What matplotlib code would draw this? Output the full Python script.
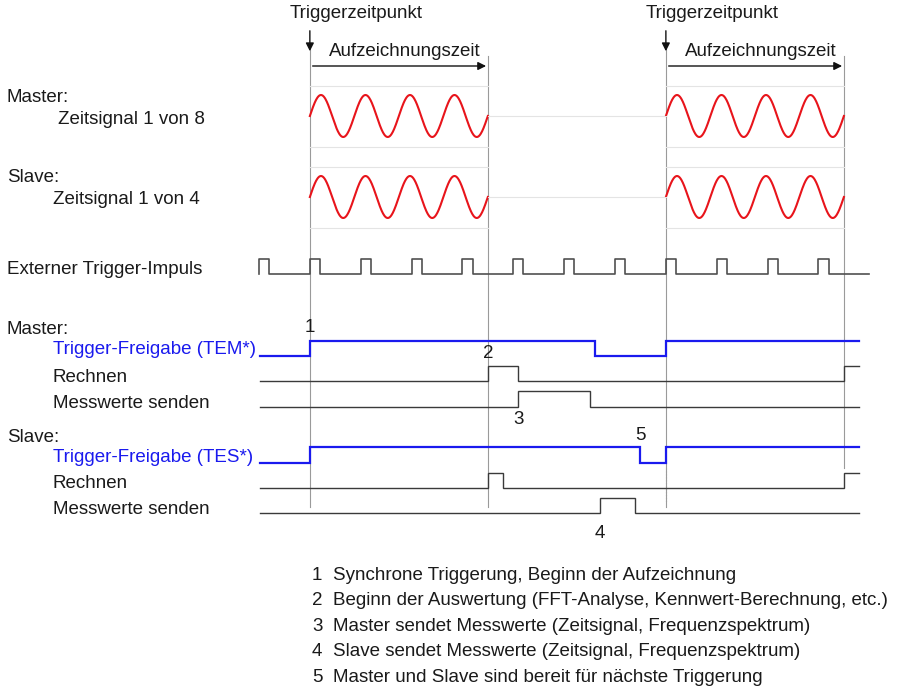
import matplotlib
matplotlib.use("Agg")
import matplotlib.pyplot as plt
import numpy as np

plt.rcParams['font.family'] = ['Liberation Sans', 'DejaVu Sans']

# time axis in units of the external trigger period
pulse_times = list(range(12))
pulse_width = 0.2
signal_end = 12.0
trigger_times = [1.0, 8.0]
record_length = 3.5
sine_cycles = 4

# step signals: (start level, transition times, end time)
master_tem = (0, [1.0, 6.6, 8.0], 11.8)
master_calc = (0, [4.5, 5.1, 11.5], 11.8)
master_send = (0, [5.1, 6.5], 11.8)
slave_tes = (0, [1.0, 7.5, 8.0], 11.8)
slave_calc = (0, [4.5, 4.8, 11.5], 11.8)
slave_send = (0, [6.7, 7.4], 11.8)

markers = ['1', '2', '3', '4', '5']
marker_times = [1.0, 4.5, 5.1, 6.7, 7.5]
legend_texts = [
    'Synchrone Triggerung, Beginn der Aufzeichnung',
    'Beginn der Auswertung (FFT-Analyse, Kennwert-Berechnung, etc.)',
    'Master sendet Messwerte (Zeitsignal, Frequenzspektrum)',
    'Slave sendet Messwerte (Zeitsignal, Frequenzspektrum)',
    'Master und Slave sind bereit für nächste Triggerung',
]

T0, DT = 259.0, 50.86


def px(t):
    return T0 + DT * np.asarray(t, dtype=float)


fig = plt.figure(figsize=(8.97, 6.88), dpi=100)
ax = fig.add_axes([0, 0, 1, 1])
ax.set_xlim(0, 897)
ax.set_ylim(688, 0)
ax.axis('off')

TXT = '#1a1a1a'
BLUE = '#1a1aee'
GRAY = '#9a9a9a'
FAINT = '#e4e4e4'
SIG = '#3a3a3a'
FS = 13.5


def step(sig, y_low, y_high, color, lw):
    level, times, end = sig
    xs, ys = [px(0.02)], [y_high if level else y_low]
    for t in times:
        xs += [px(t), px(t)]
        ys += [ys[-1], y_low if ys[-1] == y_high else y_high]
    xs.append(px(end))
    ys.append(ys[-1])
    ax.plot(xs, ys, color=color, lw=lw, solid_joinstyle='miter')


# vertical guide lines
for tt in trigger_times:
    te = tt + record_length
    ax.plot([px(tt), px(tt)], [50, 507], color=GRAY, lw=0.8)
    end_bot = 507 if tt == trigger_times[0] else 468
    ax.plot([px(te), px(te)], [56, end_bot], color=GRAY, lw=0.8)
ax.plot([px(trigger_times[1])] * 2, [468, 502], color=GRAY, lw=0.8, ls=':')

# top annotations
for tt in trigger_times:
    te = tt + record_length
    ax.text(px(tt) + 46, 14, 'Triggerzeitpunkt', ha='center', va='center', fontsize=FS, color=TXT)
    ax.annotate('', xy=(px(tt), 54), xytext=(px(tt), 28),
                arrowprops=dict(arrowstyle='-|>', color='#111111', lw=1.0, mutation_scale=12))
    ax.annotate('', xy=(px(te) + 1, 66), xytext=(px(tt), 66),
                arrowprops=dict(arrowstyle='-|>', color='#111111', lw=1.0, mutation_scale=12))
    ax.text((px(tt) + px(te)) / 2 + 6, 52, 'Aufzeichnungszeit', ha='center', va='center',
            fontsize=FS, color=TXT)

# sine sections
for yc in [116, 197]:
    for tt in trigger_times:
        x0, x1 = px(tt), px(tt + record_length)
        ax.plot([x0, x1], [yc - 30, yc - 30], color=FAINT, lw=0.8)
        ax.plot([x0, x1], [yc + 31, yc + 31], color=FAINT, lw=0.8)
        xs = np.linspace(x0, x1, 400)
        ax.plot(xs, yc - 21 * np.sin(2 * np.pi * sine_cycles * (xs - x0) / (x1 - x0)),
                color='#e8141b', lw=1.5)
    ax.plot([px(trigger_times[0] + record_length), px(trigger_times[1])], [yc, yc],
            color=FAINT, lw=0.8)

# external trigger pulses
xs, ys = [], []
for p in pulse_times:
    xs += [px(p), px(p), px(p + pulse_width), px(p + pulse_width)]
    ys += [274, 259, 259, 274]
xs.append(px(signal_end))
ys.append(274)
ax.plot(xs, ys, color='#505050', lw=1.2)

# step signals
step(master_tem, 356, 341, BLUE, 1.6)
step(master_calc, 381, 366, SIG, 1.0)
step(master_send, 407, 391, SIG, 1.0)
step(slave_tes, 463, 447, BLUE, 1.6)
step(slave_calc, 488, 473, SIG, 1.0)
step(slave_send, 513, 498, SIG, 1.0)

# event numbers
marker_y = [328, 354, 420, 533, 435]
for m, t, y in zip(markers, marker_times, marker_y):
    ax.text(px(t), y, m, ha='center', va='center', fontsize=FS, color=TXT)

# left labels
labels = [
    (7, 97, 'Master:', TXT), (58, 120, 'Zeitsignal 1 von 8', TXT),
    (7, 178, 'Slave:', TXT), (53, 200, 'Zeitsignal 1 von 4', TXT),
    (7, 270, 'Externer Trigger-Impuls', TXT),
    (7, 330, 'Master:', TXT), (53, 350, 'Trigger-Freigabe (TEM*)', BLUE),
    (53, 377, 'Rechnen', TXT), (53, 403, 'Messwerte senden', TXT),
    (7, 437, 'Slave:', TXT), (53, 457, 'Trigger-Freigabe (TES*)', BLUE),
    (53, 483, 'Rechnen', TXT), (53, 509, 'Messwerte senden', TXT),
]
for x, y, s, c in labels:
    ax.text(x, y, s, ha='left', va='center', fontsize=FS, color=c)

# legend
for i, (m, s) in enumerate(zip(markers, legend_texts)):
    y = 575 + 25.6 * i
    ax.text(312, y, m, ha='left', va='center', fontsize=FS, color=TXT)
    ax.text(333, y, s, ha='left', va='center', fontsize=FS, color=TXT)

fig.savefig('out.png', dpi=100, facecolor='white')
